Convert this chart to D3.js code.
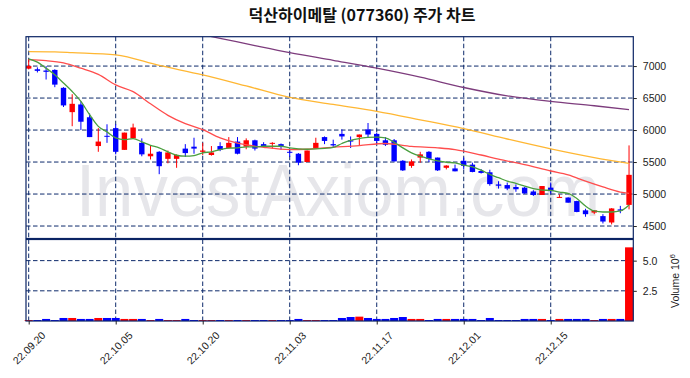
<!DOCTYPE html>
<html>
<head>
<meta charset="utf-8">
<script src="https://cdn.jsdelivr.net/npm/d3@7"></script>
<style>
  body { margin: 0; background: #fff; }
  text { font-family: "Liberation Sans", Arial, sans-serif; }
</style>
</head>
<body>
<div class="chart"></div>
<script>
'use strict';

const dates = [
  '22.09.20','22.09.21','22.09.22','22.09.23','22.09.26','22.09.27','22.09.28','22.09.29','22.09.30',
  '22.10.04','22.10.05','22.10.06','22.10.07','22.10.11','22.10.12','22.10.13','22.10.14','22.10.17',
  '22.10.18','22.10.19','22.10.20','22.10.21','22.10.24','22.10.25','22.10.26','22.10.27','22.10.28','22.10.31',
  '22.11.01','22.11.02','22.11.03','22.11.04','22.11.07','22.11.08','22.11.09','22.11.10','22.11.11',
  '22.11.14','22.11.15','22.11.16','22.11.17','22.11.18','22.11.21','22.11.22','22.11.23','22.11.24',
  '22.11.25','22.11.28','22.11.29','22.11.30',
  '22.12.01','22.12.02','22.12.05','22.12.06','22.12.07','22.12.08','22.12.09','22.12.12','22.12.13',
  '22.12.14','22.12.15','22.12.16','22.12.19','22.12.20','22.12.21','22.12.22','22.12.23','22.12.26',
  '22.12.27','22.12.28'
];

const open = [
  6960,6950,6930,6940,6660,6280,6400,6200,5750,5910,6030,5690,5870,5800,5590,5660,5550,5550,5710,5740,
  5660,5610,5750,5720,5820,5740,5840,5780,5790,5780,5660,5630,5500,5720,5890,5780,5940,5840,5890,6010,
  5940,5840,5840,5520,5440,5570,5660,5570,5410,5400,5520,5460,5360,5340,5150,5140,5110,5100,5040,4985,
  5100,4945,4945,4890,4745,4710,4655,4555,4760,4830
];
const high = [
  7110,6980,7000,6950,6670,6560,6450,6260,6030,6090,6090,5960,6100,5870,5750,5670,5680,5620,5780,5880,
  5800,5750,5810,5890,5890,5870,5850,5810,5810,5790,5720,5640,5680,5880,5900,5850,6010,5900,5930,6110,
  5960,5890,5860,5530,5540,5660,5670,5570,5450,5460,5570,5490,5390,5380,5200,5180,5150,5110,5060,5125,
  5180,4995,4950,4895,4770,4745,4685,4780,4815,5760
];
const low = [
  6950,6900,6790,6670,6360,6060,6000,5890,5660,5800,5620,5690,5860,5590,5540,5310,5480,5410,5580,5630,
  5610,5600,5670,5710,5620,5700,5680,5720,5710,5690,5580,5450,5500,5720,5780,5720,5850,5720,5760,5890,
  5780,5750,5510,5360,5410,5490,5500,5360,5385,5355,5385,5340,5320,5130,5085,5060,5035,5005,4970,4985,
  5005,4945,4865,4715,4645,4685,4540,4525,4700,4760
];
const close = [
  7000,6925,6910,6710,6385,6410,6130,5890,5820,5900,5660,5960,6040,5620,5630,5435,5650,5610,5640,5710,
  5680,5650,5690,5800,5630,5840,5710,5740,5800,5750,5650,5490,5680,5800,5830,5760,5900,5820,5930,5930,
  5830,5770,5510,5370,5510,5620,5550,5370,5445,5355,5440,5345,5330,5155,5130,5085,5075,5010,4985,5125,
  5045,4955,4865,4720,4685,4745,4570,4775,4740,5300
];
const volume = [
  0.08,0.08,0.17,0.08,0.25,0.25,0.17,0.17,0.25,0.25,0.25,0.17,0.17,0.17,0.08,0.17,0.08,0.08,0.17,0.08,
  0.08,0.08,0.08,0.08,0.08,0.08,0.08,0.08,0.08,0.08,0.08,0.17,0.08,0.08,0.08,0.08,0.25,0.33,0.36,0.25,
  0.17,0.17,0.25,0.33,0.17,0.17,0.08,0.17,0.17,0.17,0.17,0.17,0.08,0.25,0.08,0.08,0.08,0.17,0.17,0.17,
  0.08,0.17,0.17,0.17,0.17,0.08,0.17,0.17,0.17,6.1
].map(v => v * 1e6);

const ma5 = [
  7112,7061,6967,6863,6734,6603,6447,6240,6058,5971,5877,5851,5867,5815,5762,5722,5660,5606,5591,5600,
  5644,5660,5695,5716,5722,5737,5737,5747,5747,5747,5722,5706,5700,5705,5715,5730,5790,5840,5867,5887,
  5890,5877,5809,5722,5644,5591,5550,5519,5497,5488,5451,5426,5373,5306,5255,5202,5166,5124,5083,5062,
  5057,5030,5010,4930,4812,4735,4719,4719,4735,4830
];
const ma20Idx = [0,2,4,6,8,10,12,14,16,18,20,22,24,27,30,32,34,38,41,44,47,49,52,54,57,60,62,64,66,68,69];
const ma20Val = [7100,7085,7050,6967,6870,6705,6600,6410,6230,6100,6007,5877,5795,5731,5695,5700,5722,5758,
  5790,5745,5722,5695,5610,5545,5460,5360,5300,5200,5110,5030,5010];
const ma60Idx = [0,3,5,10,15,20,25,30,35,40,45,50,55,60,65,69];
const ma60Val = [7226,7222,7210,7174,7010,6863,6690,6510,6400,6292,6160,6022,5860,5706,5570,5478];
const ma120Idx = [20,22,26,30,35,40,45,50,55,60,65,69];
const ma120Val = [7490,7434,7320,7210,7090,6967,6827,6665,6535,6447,6380,6318];

const priceTicks = [4500,5000,5500,6000,6500,7000];
const volTicks = [2.5e6,5e6];

const width = 690;
const height = 378;
const left = 26;
const right = 633.3;
const mainTop = 36.7;
const mainBottom = 238.5;
const volTop = 239.5;
const volBottom = 321;
const gridColor = '#0d2a6b';
const frameColor = '#0b2464';
const upColor = '#ff0000';
const downColor = '#0000ff';

const xScale = d3.scaleLinear().domain([-0.31, 69.49]).range([left, right]);
const yScale = d3.scaleLinear().domain([4305, 7459]).range([mainBottom, mainTop]);
const vScale = d3.scaleLinear().domain([0, 6.75e6]).range([volBottom, volTop]);
const step = xScale(1) - xScale(0);

const tickIdx = dates.map((d, i) => i).filter(i => i % 10 === 0);

const svg = d3.select('.chart').append('svg')
  .attr('width', width)
  .attr('height', height);

svg.append('rect').attr('width', width).attr('height', height).attr('fill', '#fff');

// title
svg.append('text')
  .attr('x', 362)
  .attr('y', 21)
  .attr('text-anchor', 'middle')
  .style('font-family', '"Noto Sans CJK KR", sans-serif')
  .style('font-size', '16px')
  .style('font-weight', 'bold')
  .attr('fill', '#111')
  .text('덕산하이메탈 (077360) 주가 차트');

// watermark
svg.append('text')
  .attr('x', 76)
  .attr('y', 216)
  .attr('textLength', 524)
  .attr('lengthAdjust', 'spacingAndGlyphs')
  .style('font-size', '74px')
  .attr('fill', '#e6e6ea')
  .text('InvestAxiom.com');

svg.append('clipPath').attr('id', 'clipMain')
  .append('rect')
  .attr('x', left).attr('y', mainTop)
  .attr('width', right - left).attr('height', mainBottom - mainTop);

function drawGrid(g, yTicks, scale, top, bottom) {
  g.selectAll('.hgrid')
    .data(yTicks)
    .enter().append('line')
    .attr('x1', left).attr('x2', right)
    .attr('y1', d => scale(d)).attr('y2', d => scale(d))
    .attr('stroke', gridColor).attr('stroke-width', 1)
    .attr('stroke-dasharray', '4.5,2.5');
  g.selectAll('.vgrid')
    .data(tickIdx)
    .enter().append('line')
    .attr('x1', d => xScale(d)).attr('x2', d => xScale(d))
    .attr('y1', top).attr('y2', bottom)
    .attr('stroke', gridColor).attr('stroke-width', 1)
    .attr('stroke-dasharray', '4.5,2.5');
}

// main panel
const main = svg.append('g');
drawGrid(main, priceTicks, yScale, mainTop, mainBottom);

const candles = main.append('g').attr('clip-path', 'url(#clipMain)');
const bodyW = step * 0.62;

candles.selectAll('.wick')
  .data(dates)
  .enter().append('line')
  .attr('x1', (d, i) => xScale(i)).attr('x2', (d, i) => xScale(i))
  .attr('y1', (d, i) => yScale(high[i])).attr('y2', (d, i) => yScale(low[i]))
  .attr('stroke', (d, i) => close[i] >= open[i] ? upColor : downColor)
  .attr('stroke-width', 1);

candles.selectAll('.body')
  .data(dates)
  .enter().append('rect')
  .attr('x', (d, i) => xScale(i) - bodyW / 2)
  .attr('width', bodyW)
  .attr('y', (d, i) => yScale(Math.max(open[i], close[i])))
  .attr('height', (d, i) => Math.max(1, Math.abs(yScale(open[i]) - yScale(close[i]))))
  .attr('fill', (d, i) => close[i] >= open[i] ? upColor : downColor);

const line = d3.line()
  .x(d => xScale(d[0]))
  .y(d => yScale(d[1]))
  .curve(d3.curveMonotoneX);

const maSeries = [
  {pts: ma120Idx.map((d, i) => [d, ma120Val[i]]), color: '#7d3c7d'},
  {pts: ma60Idx.map((d, i) => [d, ma60Val[i]]), color: '#ffb733'},
  {pts: ma20Idx.map((d, i) => [d, ma20Val[i]]), color: '#ff4d4d'},
  {pts: ma5.map((d, i) => [i, d]), color: '#4a9f3f'}
];

candles.selectAll('.ma')
  .data(maSeries)
  .enter().append('path')
  .attr('d', d => line(d.pts))
  .attr('fill', 'none')
  .attr('stroke', d => d.color)
  .attr('stroke-width', 1.3);

main.append('rect')
  .attr('x', left).attr('y', mainTop)
  .attr('width', right - left).attr('height', mainBottom - mainTop)
  .attr('fill', 'none').attr('stroke', frameColor).attr('stroke-width', 1.2);

const yAxis = main.append('g')
  .attr('transform', `translate(${right},0)`)
  .call(d3.axisRight(yScale).tickValues(priceTicks).tickSize(3.5).tickPadding(6)
    .tickFormat(d3.format('d')));
yAxis.select('.domain').remove();
yAxis.selectAll('text').style('font-size', '10.5px').attr('fill', '#222');
yAxis.selectAll('line').attr('stroke', '#222');

// volume panel
const vol = svg.append('g');
drawGrid(vol, volTicks, vScale, volTop, volBottom);

vol.selectAll('.vbar')
  .data(volume)
  .enter().append('rect')
  .attr('x', (d, i) => xScale(i) - step * 0.46)
  .attr('width', step * 0.92)
  .attr('y', d => vScale(d))
  .attr('height', d => volBottom - vScale(d))
  .attr('fill', (d, i) => close[i] >= open[i] ? upColor : downColor);

vol.append('rect')
  .attr('x', left).attr('y', volTop)
  .attr('width', right - left).attr('height', volBottom - volTop)
  .attr('fill', 'none').attr('stroke', frameColor).attr('stroke-width', 1.2);

const vAxis = vol.append('g')
  .attr('transform', `translate(${right},0)`)
  .call(d3.axisRight(vScale).tickValues(volTicks).tickSize(3.5).tickPadding(6)
    .tickFormat(d => d3.format('.1f')(d / 1e6)));
vAxis.select('.domain').remove();
vAxis.selectAll('text').style('font-size', '10.5px').attr('fill', '#222');
vAxis.selectAll('line').attr('stroke', '#222');

const volLabel = svg.append('text')
  .attr('transform', 'translate(679,281) rotate(-90)')
  .attr('text-anchor', 'middle')
  .style('font-size', '10.5px')
  .attr('fill', '#222');
volLabel.append('tspan').text('Volume  10');
volLabel.append('tspan').attr('dy', '-0.5em').style('font-size', '8px').text('6');

const xAxis = vol.append('g')
  .attr('transform', `translate(0,${volBottom})`)
  .call(d3.axisBottom(xScale).tickValues(tickIdx).tickSize(3.5).tickFormat(i => dates[i]));
xAxis.select('.domain').remove();
xAxis.selectAll('line').attr('stroke', '#222');
xAxis.selectAll('text')
  .attr('x', 0).attr('y', 0).attr('dy', '0.35em')
  .attr('text-anchor', 'middle')
  .attr('transform', 'translate(0,27) rotate(-45)')
  .style('font-size', '10.5px')
  .attr('fill', '#222');
</script>
</body>
</html>
